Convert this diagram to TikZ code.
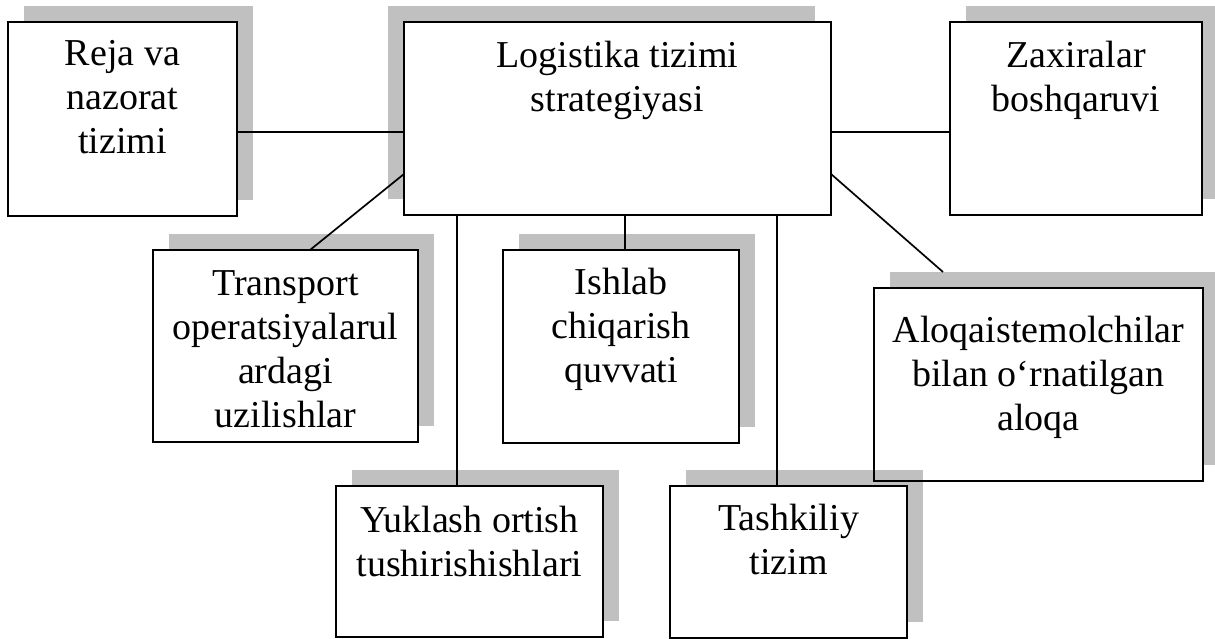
\documentclass[tikz,border=0pt]{standalone}
\usepackage{fontspec}
\setmainfont{Liberation Serif}
\usetikzlibrary{calc}
\definecolor{shgray}{RGB}{192,192,192}
\tikzset{
  boxfill/.style={fill=white, inner sep=0pt, outer sep=0pt},
  shadowbox/.style={fill=shgray, inner sep=0pt, outer sep=0pt},
  boxline/.style={draw=black, line width=1.8pt},
  conn/.style={draw=black, line width=1.7pt},
  lbl/.style={align=center, inner sep=0pt, anchor=north, font=\fontsize{38}{44}\selectfont},
}
% name, left, top, right, bottom, shadow dx
\newcommand\shbox[6]{%
  \node[shadowbox, minimum width={#4-#2}, minimum height={#5-#3}] (#1s)
    at ({(#2+#4)/2+#6},{(#3+#5)/2-16}) {};
  \node[boxfill, minimum width={#4-#2}, minimum height={#5-#3}] (#1)
    at ({(#2+#4)/2},{(#3+#5)/2}) {};
}
\begin{document}
\begin{tikzpicture}[x=1pt,y=-1pt]
\useasboundingbox (0,0) rectangle (1215,639);
% shadows and fills
\shbox{R}{8}{22}{237}{216}{16}
\shbox{C}{404}{22}{831}{215}{-16}
\shbox{Z}{950}{22}{1202}{215}{16}
\shbox{T}{153}{250}{418}{442}{16}
\shbox{I}{503}{250}{739}{443}{16}
\shbox{A}{874}{288}{1203}{481}{16}
\shbox{Y}{336}{486}{603}{637}{16}
\shbox{K}{670}{486}{907}{638}{16}
% borders
\foreach \b in {R,C,Z,T,I,A,Y,K}
  \draw[boxline] (\b.north west) rectangle (\b.south east);
% connectors
\draw[conn] ($(R.north east)+(0,110)$) -- ($(C.north west)+(0,110)$);
\draw[conn] ($(C.north east)+(0,110)$) -- ($(Z.north west)+(0,110)$);
\draw[conn] ($(C.north west)+(0,152)$) -- ($(T.north west)+(157,0)$);
\draw[conn] ($(C.north east)+(0,152)$) -- ($(As.north west)+(53,0)$);
\path ($(C.south west)+(53,0)$) coordinate (cy)
      ($(C.south west)+(221,0)$) coordinate (ci)
      ($(C.south west)+(373,0)$) coordinate (ck);
\draw[conn] (cy) -- (cy |- Y.north);
\draw[conn] (ci) -- (ci |- I.north);
\draw[conn] (ck) -- (ck |- K.north);
% labels
\node[lbl] (Rt) at (122.5,{65-30.8}) {\strut Reja va\\nazorat\\tizimi};
\node[lbl] (Ct) at (617.5,{67-30.8}) {\strut Logistika tizimi\\strategiyasi};
\node[lbl] (Zt) at (1076,{67-30.8}) {\strut Zaxiralar\\boshqaruvi};
\node[lbl] (Tt) at (285.5,{295-30.8}) {\strut Transport\\operatsiyalarul\\ardagi\\uzilishlar};
\node[lbl] (It) at (621,{294-30.8}) {\strut Ishlab\\chiqarish\\quvvati};
\node[lbl] (At) at (1038.5,{342-30.8}) {\strut Aloqaistemolchilar\\bilan o‘rnatilgan\\aloqa};
\node[lbl] (Yt) at (469.5,{532-30.8}) {\strut Yuklash ortish\\tushirishishlari};
\node[lbl] (Kt) at (788.5,{530-30.8}) {\strut Tashkiliy\\tizim};
\end{tikzpicture}
\end{document}
